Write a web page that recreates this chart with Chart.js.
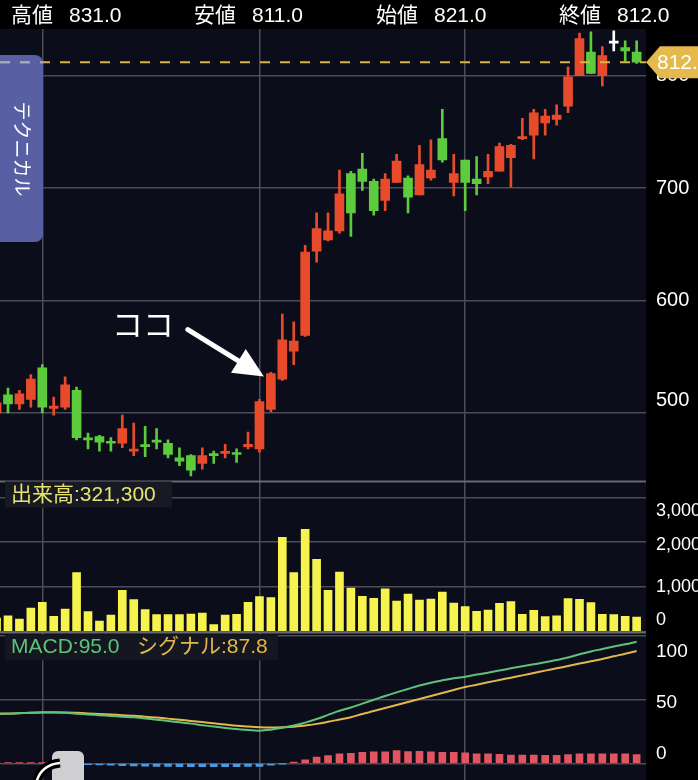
<!DOCTYPE html>
<html>
<head>
<meta charset="utf-8">
<script src="https://cdn.jsdelivr.net/npm/chart.js@4.4.1/dist/chart.umd.min.js"></script>
<style>
  html, body { margin: 0; padding: 0; background: #000; overflow: hidden; }
  #wrap { position: relative; width: 698px; height: 780px; }
  #chart { position: absolute; left: 0; top: 0; }
  .hd { position: absolute; top: 0; height: 29px; line-height: 29px; color: #fff; font-size: 21px;
        font-family: "Liberation Sans", "Noto Sans CJK JP", sans-serif; white-space: nowrap; }
</style>
</head>
<body>
<div id="wrap">
  <canvas id="chart" width="698" height="780"></canvas>
  <span class="hd" style="left:11px">高値</span><span class="hd" id="hHigh" style="left:69px"></span>
  <span class="hd" style="left:194px">安値</span><span class="hd" id="hLow" style="left:252px"></span>
  <span class="hd" style="left:376px">始値</span><span class="hd" id="hOpen" style="left:434px"></span>
  <span class="hd" style="left:559px">終値</span><span class="hd" id="hClose" style="left:617px"></span>
</div>
<script>
// candle index (-1 is the half hidden one at the left edge)
const idx = [-1, 0, 1, 2, 3, 4, 5, 6, 7, 8, 9, 10, 11, 12, 13, 14, 15, 16, 17, 18, 19,
  20, 21, 22, 23, 24, 25, 26, 27, 28, 29, 30, 31, 32, 33, 34, 35, 36, 37, 38, 39,
  40, 41, 42, 43, 44, 45, 46, 47, 48, 49, 50, 51, 52, 53, 54, 55];

const opens = [500, 516, 508, 512, 540, 504, 505, 520, 477, 479, 474, 473, 466, 471, 475, 473, 460, 462, 455, 463, 464,
  464, 470, 468, 503, 530, 555, 569, 644, 654, 662, 713, 717, 706, 689, 705, 709, 694, 709, 744, 705,
  725, 708, 710, 715, 727, 744, 747, 758, 761, 773, 800, 821, 800, 829, 825, 821];
const highs = [512, 522, 520, 534, 543, 514, 532, 523, 482, 480, 478, 498, 491, 488, 486, 476, 469, 463, 469, 466, 472,
  468, 483, 512, 536, 588, 581, 649, 678, 678, 716, 715, 731, 708, 713, 730, 711, 738, 743, 770, 730,
  725, 728, 730, 740, 739, 762, 770, 770, 774, 808, 838, 839, 826, 840, 831, 831];
const lows = [497, 500, 503, 505, 500, 498, 503, 476, 468, 466, 466, 469, 462, 461, 468, 460, 453, 444, 450, 455, 460,
  456, 468, 465, 501, 529, 543, 568, 634, 653, 660, 657, 698, 676, 680, 705, 678, 694, 707, 723, 693,
  680, 694, 704, 715, 701, 743, 726, 747, 756, 767, 800, 802, 791, 822, 813, 811];
const closes = [509, 508, 517, 530, 505, 506, 525, 478, 476, 474, 473, 486, 467, 470, 474, 463, 457, 449, 462, 462, 465,
  463, 472, 510, 535, 565, 564, 643, 664, 662, 695, 678, 706, 680, 708, 724, 692, 721, 716, 725, 713,
  705, 704, 715, 737, 738, 745, 767, 764, 765, 799, 833, 802, 818, 829, 822, 812];

// volume in thousands of shares
const volumes = [300, 351, 277, 523, 651, 337, 501, 1313, 441, 233, 367, 919, 709, 486, 374, 374, 374, 389, 412, 150, 367,
  382, 651, 777, 754, 2105, 1313, 2284, 1613, 919, 1329, 971, 785, 740, 955, 680, 837, 702, 725, 881, 635,
  553, 450, 479, 629, 665, 382, 472, 330, 351, 732, 718, 642, 382, 374, 337, 321.3];

const macdLine = [39.0, 39.0, 39.2, 39.5, 39.8, 39.8, 39.5, 38.8, 38.2, 37.6, 37.0, 36.4, 35.9, 35.0, 34.1, 33.1, 32.0, 31.0, 29.8, 28.7, 27.6,
  26.8, 26.0, 25.5, 26.3, 27.8, 29.5, 31.8, 34.6, 37.8, 41.0, 43.6, 46.6, 49.6, 52.6, 55.4, 58.1, 60.8, 63.0, 64.8, 66.4,
  67.7, 69.3, 70.8, 72.5, 74.2, 75.8, 77.4, 78.9, 80.7, 82.6, 85.2, 87.4, 89.3, 91.2, 93.0, 95.0];
const signalLine = [38.5, 38.8, 39.1, 39.4, 39.6, 39.7, 39.7, 39.4, 39.0, 38.6, 38.1, 37.6, 37.1, 36.4, 35.7, 34.9, 34.0, 33.1, 32.2, 31.2, 30.3,
  29.4, 28.7, 28.1, 27.9, 28.1, 28.6, 29.6, 30.8, 32.4, 34.2, 36.0, 38.5, 40.8, 43.2, 45.5, 47.9, 50.2, 52.6, 54.9, 57.3,
  59.6, 61.4, 63.3, 65.1, 66.9, 68.7, 70.5, 72.4, 74.2, 76.0, 77.9, 79.7, 81.5, 83.6, 85.6, 87.8];
const histogram = [0.5, 0.4, 0.3, 0.2, 0.1, 0, -0.2, -0.6, -1.0, -1.2, -1.5, -1.8, -2.0, -2.2, -2.4, -2.5, -2.6, -2.6, -2.7, -2.7, -2.7,
  -2.6, -2.5, -2.4, -1.4, -0.3, 0.9, 2.7, 4.8, 6.1, 7.3, 7.8, 8.6, 8.9, 8.9, 9.9, 9.1, 9.4, 8.9, 8.6, 8.6,
  8.1, 7.3, 7.3, 7.0, 6.5, 6.5, 6.5, 6.2, 6.2, 6.8, 7.3, 7.3, 7.3, 7.3, 7.3, 6.8];

const priceTicks = [500, 600, 700, 800];
const volumeTicks = [0, 1000, 2000, 3000];
const macdTicks = [0, 50, 100];
const monthStarts = [3, 22, 40];

const last = idx.length - 1;
document.getElementById('hHigh').textContent = highs[last].toFixed(1);
document.getElementById('hLow').textContent = lows[last].toFixed(1);
document.getElementById('hOpen').textContent = opens[last].toFixed(1);
document.getElementById('hClose').textContent = closes[last].toFixed(1);

const FONT = '"Liberation Sans", "Noto Sans CJK JP", sans-serif';
const JP = '"Noto Sans CJK JP", "Liberation Sans", sans-serif';
const GRID = '#4d4d57';
const UP = '#e84b2c', DOWN = '#5ccb3c', FLAT = '#ffffff';

let candleColors = closes.map(function (c, i) {
  if (c > opens[i]) return UP;
  if (c < opens[i]) return DOWN;
  return FLAT;
});

// labels of the right axis sit a little off their grid line near the pane edges
function paneTicks(shifts, size, fmt) {
  return {
    color: '#ffffff',
    padding: 10,
    autoSkip: false,
    callback: function (v) {
      let s = shifts[v] || 0;
      let t = fmt(v);
      if (s > 0) return ['', t];
      if (s < 0) return [t, ''];
      return t;
    },
    font: function (ctx) {
      let s = ctx.tick ? (shifts[ctx.tick.value] || 0) : 0;
      return { family: FONT, size: size, lineHeight: s ? (Math.abs(s) * 2) + 'px' : 1.2 };
    }
  };
}

function rightPane(ticks, weight, min, max, tickOpts) {
  return {
    position: 'right',
    stack: 'panes',
    stackWeight: weight,
    min: min,
    max: max,
    afterBuildTicks: s => { s.ticks = ticks.map(v => ({ value: v })); },
    afterFit: s => { s.width = 52; s.paddingTop = 0; s.paddingBottom = 0; },
    grid: { color: GRID, lineWidth: 1.5, drawTicks: false },
    border: { display: false },
    ticks: tickOpts
  };
}

const decor = {
  id: 'decor',
  beforeDraw(chart) {
    const { ctx, chartArea: a } = chart;
    ctx.save();
    ctx.fillStyle = '#0b0d1a';
    ctx.fillRect(a.left, a.top, a.right - a.left, a.bottom - a.top);
    ctx.restore();
  },
  afterDraw(chart) {
    const { ctx, chartArea: a, scales } = chart;
    const xs = scales.x, ys = scales.y, vs = scales.vol, ms = scales.macd;
    ctx.save();

    // pane separators
    ctx.strokeStyle = '#68686f';
    ctx.lineWidth = 2;
    [ys.bottom, vs.bottom].forEach(function (yy) {
      ctx.beginPath(); ctx.moveTo(a.left, yy); ctx.lineTo(a.right, yy); ctx.stroke();
    });

    // left tab
    ctx.fillStyle = '#5860a3';
    ctx.beginPath();
    ctx.roundRect(-12, 55, 55, 187, 8);
    ctx.fill();
    ctx.save();
    ctx.translate(22, 149);
    ctx.rotate(Math.PI / 2);
    ctx.fillStyle = '#ffffff';
    ctx.font = '19px ' + JP;
    ctx.textAlign = 'center';
    ctx.textBaseline = 'middle';
    ctx.fillText('テクニカル', 0, 0);
    ctx.restore();

    // current price line
    const cy = ys.getPixelForValue(closes[last]);
    ctx.setLineDash([10, 10]);
    ctx.lineWidth = 2;
    ctx.strokeStyle = '#d9b443';
    ctx.beginPath(); ctx.moveTo(a.left, cy); ctx.lineTo(a.right, cy); ctx.stroke();
    ctx.save();
    ctx.beginPath(); ctx.rect(0, 55, 43, 187); ctx.clip();
    ctx.strokeStyle = '#a8a8b2';
    ctx.beginPath(); ctx.moveTo(a.left, cy); ctx.lineTo(a.right, cy); ctx.stroke();
    ctx.restore();
    ctx.setLineDash([]);

    // price tag
    ctx.fillStyle = '#e5b94c';
    ctx.beginPath();
    ctx.moveTo(a.right, cy);
    ctx.lineTo(a.right + 14, cy - 16);
    ctx.lineTo(700, cy - 16);
    ctx.lineTo(700, cy + 16);
    ctx.lineTo(a.right + 14, cy + 16);
    ctx.closePath();
    ctx.fill();
    ctx.fillStyle = '#ffffff';
    ctx.font = '21px ' + FONT;
    ctx.textAlign = 'left';
    ctx.textBaseline = 'middle';
    ctx.fillText(closes[last].toFixed(1), a.right + 11, cy + 1);

    // pane titles
    ctx.font = '21px ' + FONT;
    ctx.fillStyle = '#171925';
    ctx.fillRect(5, vs.top, 167, 26);
    ctx.fillStyle = '#e8e36e';
    ctx.fillText('出来高:' + Math.round(volumes[last] * 1000).toLocaleString('en-US'), 11, vs.top + 14);

    ctx.fillStyle = '#141620';
    ctx.fillRect(5, ms.top + 2, 273, 26);
    ctx.fillStyle = '#5fc27c';
    ctx.fillText('MACD:' + macdLine[last].toFixed(1), 11, ms.top + 15);
    ctx.fillStyle = '#e2b84c';
    ctx.fillText('シグナル:' + signalLine[last].toFixed(1), 137, ms.top + 15);

    // annotation pointing at the breakout candle
    const tipX = xs.getPixelForValue(23) - 7;
    const tipY = ys.getPixelForValue(closes[24]) + 3;
    ctx.strokeStyle = '#ffffff';
    ctx.fillStyle = '#ffffff';
    ctx.lineWidth = 5;
    ctx.lineCap = 'round';
    const tailX = tipX - 76, tailY = tipY - 47;
    const ang = Math.atan2(tipY - tailY, tipX - tailX);
    ctx.beginPath();
    ctx.moveTo(tailX, tailY);
    ctx.lineTo(tipX - 20 * Math.cos(ang), tipY - 20 * Math.sin(ang));
    ctx.stroke();
    ctx.beginPath();
    ctx.moveTo(tipX, tipY);
    ctx.lineTo(tipX - 30 * Math.cos(ang) + 14 * Math.sin(ang), tipY - 30 * Math.sin(ang) - 14 * Math.cos(ang));
    ctx.lineTo(tipX - 30 * Math.cos(ang) - 14 * Math.sin(ang), tipY - 30 * Math.sin(ang) + 14 * Math.cos(ang));
    ctx.closePath();
    ctx.fill();
    ctx.font = '31px ' + JP;
    ctx.textBaseline = 'middle';
    ctx.fillText('ココ', tipX - 152, tipY - 52);

    // grey handle at the bottom
    ctx.fillStyle = '#cfcfd2';
    ctx.beginPath();
    ctx.roundRect(52, 751, 32, 40, 6);
    ctx.fill();
    ctx.lineCap = 'butt';
    ctx.strokeStyle = '#000000';
    ctx.lineWidth = 9;
    ctx.beginPath(); ctx.moveTo(36, 784); ctx.quadraticCurveTo(40, 765, 60, 763); ctx.stroke();
    ctx.strokeStyle = '#ffffff';
    ctx.lineWidth = 2.5;
    ctx.beginPath(); ctx.moveTo(36, 784); ctx.quadraticCurveTo(40, 765, 60, 763); ctx.stroke();

    ctx.restore();
  }
};

let ctx = document.getElementById('chart').getContext('2d');
let chart = new Chart(ctx, {
  type: 'bar',
  data: {
    datasets: [
      {
        label: 'body',
        yAxisID: 'y',
        data: idx.map((x, i) => ({ x: x, y: [opens[i], closes[i]] })),
        backgroundColor: candleColors,
        barThickness: 9,
        minBarLength: 2,
        grouped: false
      },
      {
        label: 'wick',
        yAxisID: 'y',
        data: idx.map((x, i) => ({ x: x, y: [lows[i], highs[i]] })),
        backgroundColor: candleColors,
        barThickness: 2,
        grouped: false
      },
      {
        label: '出来高',
        yAxisID: 'vol',
        data: idx.map((x, i) => ({ x: x, y: volumes[i] })),
        backgroundColor: '#f6f24e',
        barThickness: 8,
        grouped: false
      },
      {
        type: 'line',
        label: 'MACD',
        yAxisID: 'macd',
        data: idx.map((x, i) => ({ x: x, y: macdLine[i] })),
        borderColor: '#5fc27c',
        borderWidth: 2,
        pointRadius: 0,
        tension: 0.4
      },
      {
        type: 'line',
        label: 'シグナル',
        yAxisID: 'macd',
        data: idx.map((x, i) => ({ x: x, y: signalLine[i] })),
        borderColor: '#e2b84c',
        borderWidth: 2,
        pointRadius: 0,
        tension: 0.4
      },
      {
        label: 'hist',
        yAxisID: 'macd',
        data: idx.map((x, i) => ({ x: x, y: histogram[i] })),
        backgroundColor: histogram.map(v => v >= 0 ? '#e05560' : '#4b9be0'),
        barThickness: 7,
        grouped: false
      }
    ]
  },
  options: {
    responsive: false,
    animation: false,
    layout: { padding: { top: 29, left: 0, right: 0, bottom: 0 } },
    plugins: { legend: { display: false }, tooltip: { enabled: false } },
    scales: {
      x: {
        type: 'linear',
        min: -0.7,
        max: 55.82,
        offset: false,
        afterBuildTicks: s => { s.ticks = monthStarts.map(v => ({ value: v })); },
        afterFit: s => { s.height = 0; s.paddingLeft = 0; s.paddingRight = 0; },
        grid: { color: GRID, lineWidth: 1.5, drawTicks: false, offset: false },
        border: { display: false },
        ticks: { display: false }
      },
      y: rightPane(priceTicks, 452.5, 438.97, 841.55,
        paneTicks({ 500: -12 }, 20, v => String(v))),
      vol: rightPane(volumeTicks, 151, -24.6, 3353,
        paneTicks({ 3000: 14, 2000: 3, 0: -11 }, 18, v => v.toLocaleString('en-US'))),
      macd: rightPane(macdTicks, 147.5, -13.05, 102.19,
        paneTicks({ 100: 16, 50: 3, 0: -10 }, 19, v => String(v)))
    }
  },
  plugins: [decor]
});
</script>
</body>
</html>
